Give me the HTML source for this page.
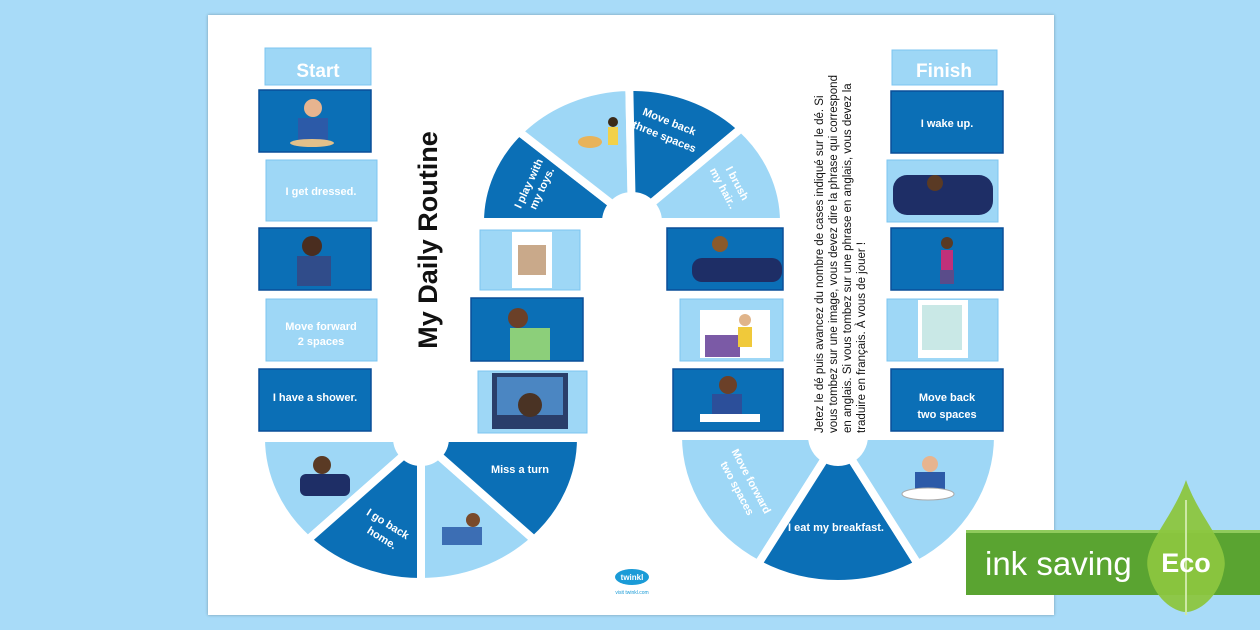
<!DOCTYPE html>
<html><head><meta charset="utf-8">
<style>
html,body{margin:0;padding:0;}
body{width:1260px;height:630px;background:#a8dbf8;position:relative;overflow:hidden;font-family:"Liberation Sans",sans-serif;}
.sheet{position:absolute;left:208px;top:15px;width:846px;height:600px;background:#fff;box-shadow:0 0 3px rgba(0,0,0,.3);}
</style></head><body>
<div class="sheet"></div>
<svg id="s" width="1260" height="630" style="position:absolute;left:0;top:0" font-family="Liberation Sans, sans-serif">
<g id="arcs"></g>
<g fill="#9ed7f6" stroke="#7cc6f0" stroke-width="1">
<rect x="265" y="48" width="106" height="37"/>
<rect x="266" y="160" width="111" height="61"/>
<rect x="266" y="299" width="111" height="62"/>
<rect x="480" y="230" width="100" height="60"/>
<rect x="478" y="371" width="109" height="62"/>
<rect x="680" y="299" width="103" height="62"/>
<rect x="892" y="50" width="105" height="35"/>
<rect x="887" y="160" width="111" height="62"/>
<rect x="887" y="299" width="111" height="62"/>
</g>
<g fill="#0b6fb6" stroke="#0a4e98" stroke-width="1.5">
<rect x="259" y="90" width="112" height="62"/>
<rect x="259" y="228" width="112" height="62"/>
<rect x="259" y="369" width="112" height="62"/>
<rect x="471" y="298" width="112" height="63"/>
<rect x="667" y="228" width="116" height="62"/>
<rect x="673" y="369" width="110" height="62"/>
<rect x="891" y="91" width="112" height="62"/>
<rect x="891" y="228" width="112" height="62"/>
<rect x="891" y="369" width="112" height="62"/>
</g>
<g>
<rect x="512" y="232" width="40" height="56" fill="#fff"/><rect x="518" y="245" width="28" height="30" fill="#c9a98a"/>
<rect x="700" y="310" width="70" height="48" fill="#fff"/><rect x="705" y="335" width="35" height="22" fill="#7b5aa6"/><circle cx="745" cy="320" r="6" fill="#e0b48a"/><rect x="738" y="327" width="14" height="20" fill="#f0c93a"/>
<rect x="918" y="300" width="50" height="58" fill="#fff"/><rect x="922" y="305" width="40" height="45" fill="#c9e8e6"/>
<rect x="492" y="373" width="76" height="56" fill="#2a3e6a"/><rect x="497" y="377" width="66" height="38" fill="#4b86c2"/><circle cx="530" cy="405" r="12" fill="#4a3324"/>
<circle cx="313" cy="108" r="9" fill="#e7b48f"/><rect x="298" y="118" width="30" height="22" fill="#2c5aa8"/><ellipse cx="312" cy="143" rx="22" ry="4" fill="#e2c08a"/>
<circle cx="312" cy="246" r="10" fill="#4a2d1f"/><rect x="297" y="256" width="34" height="30" fill="#304c8a"/>
<circle cx="518" cy="318" r="10" fill="#6b4028"/><rect x="510" y="328" width="40" height="32" fill="#8ccf7a"/>
<circle cx="720" cy="244" r="8" fill="#8b5a2b"/><rect x="692" y="258" width="90" height="24" rx="10" fill="#1e2e66"/>
<circle cx="728" cy="385" r="9" fill="#6b4028"/><rect x="712" y="394" width="30" height="22" fill="#2c4f9a"/><rect x="700" y="414" width="60" height="8" fill="#fff"/>
<rect x="893" y="175" width="100" height="40" rx="14" fill="#1e2e66"/><circle cx="935" cy="183" r="8" fill="#5a3a24"/>
<circle cx="947" cy="243" r="6" fill="#5a3a24"/><rect x="941" y="250" width="12" height="20" fill="#c0307a"/><rect x="940" y="270" width="14" height="14" fill="#5a4c8a"/>
</g>
<g fill="#fff" font-weight="bold" text-anchor="middle">
<text x="318" y="77" font-size="19">Start</text>
<text x="944" y="77" font-size="19">Finish</text>
<g font-size="11">
<text x="321" y="195">I get dressed.</text>
<text x="321" y="330">Move forward</text><text x="321" y="345">2 spaces</text>
<text x="315" y="401">I have a shower.</text>
<text x="947" y="127">I wake up.</text>
<text x="947" y="401">Move back</text><text x="947" y="418">two spaces</text>
<text x="520" y="473">Miss a turn</text>
<text x="836" y="531">I eat my breakfast.</text>
<text transform="translate(386,527) rotate(32)">I go back</text><text transform="translate(380,541) rotate(32)">home.</text>
<text transform="translate(532,185) rotate(-65)">I play with</text><text transform="translate(545,190) rotate(-65)">my toys.</text>
<text transform="translate(668,125) rotate(22)">Move back</text><text transform="translate(663,140) rotate(22)">three spaces</text>
<text transform="translate(734,185) rotate(62)">I brush</text><text transform="translate(720,190) rotate(62)">my hair..</text>
<text transform="translate(748,483) rotate(62)">Move forward</text><text transform="translate(734,490) rotate(62)">two spaces</text>
</g>
</g>
<text transform="translate(437,240) rotate(-90)" text-anchor="middle" font-size="27" font-weight="bold" fill="#111">My Daily Routine</text>
<g font-size="11.5" fill="#111" transform="rotate(-90)">
<text x="-433" y="823">Jetez le dé puis avancez du nombre de cases indiqué sur le dé. Si</text>
<text x="-433" y="837">vous tombez sur une image, vous devez dire la phrase qui correspond</text>
<text x="-433" y="851">en anglais. Si vous tombez sur une phrase en anglais, vous devez la</text>
<text x="-433" y="865">traduire en français. À vous de jouer !</text>
</g>
<ellipse cx="632" cy="577" rx="17" ry="8" fill="#1a9bd7"/>
<text x="632" y="580" font-size="8" fill="#fff" text-anchor="middle" font-weight="bold">twinkl</text>
<text x="632" y="594" font-size="5" fill="#1a9bd7" text-anchor="middle">visit twinkl.com</text>
<rect x="966" y="530" width="294" height="65" fill="#5aa431"/>
<rect x="966" y="530" width="294" height="3" fill="#8fcb5c"/>
<text x="985" y="575" font-size="33" fill="#fff">ink saving</text>
<path d="M1186 480 C1200 520 1230 545 1224 570 C1219 598 1198 612 1186 612 C1174 612 1153 598 1148 570 C1142 545 1172 520 1186 480Z" fill="#8cc63f" opacity="0.95"/>
<line x1="1186" y1="500" x2="1186" y2="615" stroke="#cde8a6" stroke-width="2"/>
<text x="1186" y="572" font-size="27" font-weight="bold" fill="#fff" text-anchor="middle">Eco</text>
</svg>
<script>
var D="#0b6fb6",L="#9ed7f6";
function sec(cx,cy,rx,ry,ri,a0,a1,up,fill){
 function p(r1,r2,a){var t=a*Math.PI/180;return [(cx+r1*Math.cos(t)).toFixed(1),(cy+(up?-1:1)*r2*Math.sin(t)).toFixed(1)];}
 var A=p(rx,ry,a0),B=p(rx,ry,a1),C=p(ri,ri,a1),E=p(ri,ri,a0);
 var sw1=(a1>a0)?(up?0:1):(up?1:0);
 var d="M"+A+" A"+rx+" "+ry+" 0 0 "+sw1+" "+B+" L"+C+" A"+ri+" "+ri+" 0 0 "+(1-sw1)+" "+E+"Z";
 return '<path d="'+d+'" fill="'+fill+'" stroke="#fff" stroke-width="8" stroke-linejoin="round"/>';
}
var h="";
h+=sec(632,222,152,135,26,180,138,true,D);
h+=sec(632,222,152,135,26,138,91,true,L);
h+=sec(632,222,152,135,26,91,44,true,D);
h+=sec(632,222,152,135,26,44,0,true,L);
h+=sec(421,438,160,144,24,180,135,false,L);
h+=sec(421,438,160,144,24,135,90,false,D);
h+=sec(421,438,160,144,24,90,45,false,L);
h+=sec(421,438,160,144,24,45,0,false,D);
h+=sec(838,436,160,148,26,180,120,false,L);
h+=sec(838,436,160,148,26,120,60,false,D);
h+=sec(838,436,160,148,26,60,0,false,L);
document.getElementById("arcs").innerHTML=h;
</script>
<svg width="1260" height="630" style="position:absolute;left:0;top:0;pointer-events:none">
<g>
<circle cx="322" cy="465" r="9" fill="#5a3a24"/><rect x="300" y="474" width="50" height="22" rx="6" fill="#1e2e66"/>
<circle cx="473" cy="520" r="7" fill="#7a4a2a"/><rect x="442" y="527" width="40" height="18" fill="#3c6eb4"/>
<circle cx="613" cy="122" r="5" fill="#3a2a1a"/><rect x="608" y="127" width="10" height="18" fill="#f2d14a"/><ellipse cx="590" cy="142" rx="12" ry="6" fill="#e8b35a"/>
<circle cx="930" cy="464" r="8" fill="#e7b48f"/><rect x="915" y="472" width="30" height="20" fill="#2c5aa8"/><ellipse cx="928" cy="494" rx="26" ry="6" fill="#fff" stroke="#aaa"/>
</g>
</svg>
</body></html>
